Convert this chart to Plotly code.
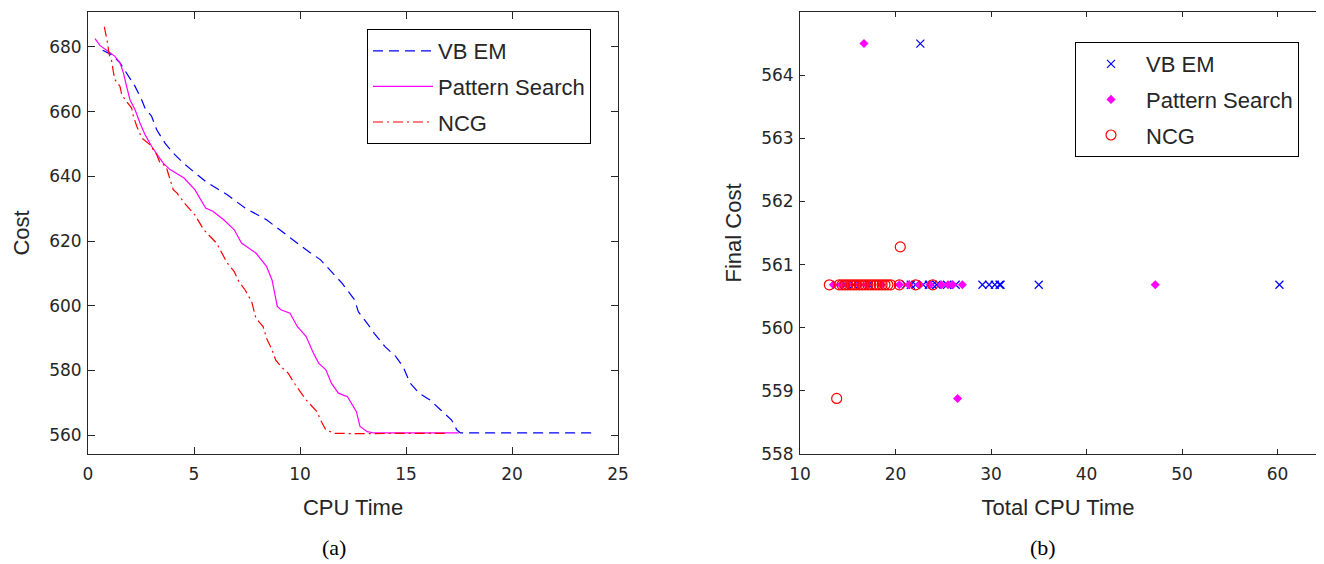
import plotly.graph_objects as go

# ---------------- Panel (a): cost vs CPU time ----------------
vb_t = [0.69, 1.12, 1.51, 1.98, 2.22, 2.53, 2.69, 3.0, 3.24, 3.63, 4.02, 4.5, 5.55, 6.57, 7.41, 8.42,
        9.44, 10.29, 10.97, 11.48, 11.98, 12.58, 12.75, 13.17, 13.5, 14.01, 14.52, 14.86, 15.2, 15.62,
        16.13, 16.64, 17.15, 17.4, 17.57, 23.8]
vb_cost = [679.0, 677.6, 675.1, 670.4, 667.8, 663.7, 661.1, 658.6, 654.4, 650.3, 647.2, 644.1, 638.4,
           634.3, 630.2, 626.6, 621.4, 617.3, 614.2, 610.6, 607.0, 601.8, 598.2, 594.6, 591.5, 587.4,
           584.3, 581.2, 576.1, 573.0, 570.9, 567.8, 564.7, 561.6, 560.7, 560.7]

ps_t = [0.33, 0.57, 0.88, 1.27, 1.51, 1.67, 1.82, 1.98, 2.22, 2.45, 2.69, 3.0, 3.32, 3.55, 3.87, 4.53,
        5.04, 5.55, 5.89, 6.4, 6.9, 7.24, 7.92, 8.42, 8.68, 8.93, 9.1, 9.53, 9.87, 10.29, 10.63, 10.88,
        11.22, 11.48, 11.81, 12.24, 12.66, 12.83, 13.17, 13.5, 17.49]
ps_cost = [682.6, 680.4, 679.0, 677.1, 675.1, 672.0, 667.8, 663.7, 660.6, 656.5, 652.9, 649.3, 646.2,
           644.1, 642.1, 639.5, 635.9, 630.2, 629.2, 626.6, 623.5, 619.4, 616.3, 612.2, 608.0, 599.8,
           598.8, 597.7, 593.6, 590.5, 585.4, 582.3, 580.2, 576.1, 573.0, 571.9, 567.3, 562.7, 561.1,
           560.7, 560.7]

ncg_t = [0.77, 0.91, 1.0, 1.12, 1.19, 1.27, 1.51, 1.59, 1.75, 2.06, 2.14, 2.3, 2.53, 2.92, 3.24, 3.4,
         3.68, 4.02, 4.19, 4.62, 5.04, 5.46, 6.06, 6.31, 6.57, 6.9, 7.07, 7.41, 7.72, 7.92, 8.26, 8.42,
         8.68, 8.85, 9.1, 9.44, 9.78, 10.29, 10.8, 10.97, 11.22, 11.64, 12.49, 17.0]
ncg_cost = [686.2, 681.7, 677.6, 675.6, 672.5, 669.9, 667.8, 665.3, 663.7, 661.1, 658.6, 655.5, 651.9,
            649.8, 646.7, 644.1, 643.1, 635.9, 634.9, 631.2, 628.1, 623.5, 619.4, 616.3, 613.2, 610.6,
            608.0, 604.9, 601.3, 596.2, 593.6, 590.0, 586.4, 583.3, 581.2, 579.2, 575.6, 570.9, 567.3,
            564.7, 561.6, 560.6, 560.5, 560.6]

# ---------------- Panel (b): final cost vs total CPU time ----------------
vb_total = [14.8, 15.6, 17.2, 21.1, 21.6, 22.1, 22.9, 23.5, 23.9, 24.3, 25.4, 26.3, 29.1, 29.8, 30.4,
            30.9, 31.0, 35.0, 60.2, 22.6]
vb_final = [560.68] * 19 + [564.5]

ps_total = [13.5, 14.3, 15.0, 16.2, 17.0, 18.5, 20.4, 21.4, 22.5, 23.6, 24.8, 25.5, 26.0, 27.0, 47.2,
            16.7, 26.5]
ps_final = [560.68] * 15 + [564.5, 558.88]

ncg_total = [13.07, 14.1, 14.4, 14.7, 15.0, 15.3, 15.6, 15.9, 16.2, 16.5, 16.8, 17.1, 17.4, 17.7, 18.0,
             18.3, 18.6, 18.9, 19.2, 19.5, 20.4, 22.1, 23.9, 20.5, 13.84]
ncg_final = [560.68] * 23 + [561.28, 558.88]

names = ["VB EM", "Pattern Search", "NCG"]
colors = ["#0000FF", "#FF00FF", "#FF0000"]

fig = go.Figure()

fig.add_trace(go.Scatter(x=vb_t, y=vb_cost, mode="lines", name=names[0], legendgroup="a1",
                         line=dict(color=colors[0], width=1.2, dash="10px,6px"),
                         xaxis="x", yaxis="y", legend="legend"))
fig.add_trace(go.Scatter(x=ps_t, y=ps_cost, mode="lines", name=names[1], legendgroup="a2",
                         line=dict(color=colors[1], width=1.2),
                         xaxis="x", yaxis="y", legend="legend"))
fig.add_trace(go.Scatter(x=ncg_t, y=ncg_cost, mode="lines", name=names[2], legendgroup="a3",
                         line=dict(color=colors[2], width=1.2, dash="10px,4px,2px,4px"),
                         xaxis="x", yaxis="y", legend="legend"))

fig.add_trace(go.Scatter(x=vb_total, y=vb_final, mode="markers", name=names[0], legendgroup="b1",
                         marker=dict(symbol="x-thin-open", size=8, color=colors[0],
                                     line=dict(color=colors[0], width=1.2)),
                         xaxis="x2", yaxis="y2", legend="legend2"))
fig.add_trace(go.Scatter(x=ps_total, y=ps_final, mode="markers", name=names[1], legendgroup="b2",
                         marker=dict(symbol="diamond", size=7, color=colors[1], line=dict(width=0)),
                         xaxis="x2", yaxis="y2", legend="legend2"))
fig.add_trace(go.Scatter(x=ncg_total, y=ncg_final, mode="markers", name=names[2], legendgroup="b3",
                         marker=dict(symbol="circle-open", size=10, color=colors[2],
                                     line=dict(color=colors[2], width=1.2)),
                         xaxis="x2", yaxis="y2", legend="legend2"))

# The page body adds an 8px offset; the figure is sized to fit inside it.
OFF = 8
W, H = 1308, 556
ML, MR, MT, MB = 80, 0, 4, 110
PW, PH = W - ML - MR, H - MT - MB


def px_x(page_x):
    return (page_x - OFF - ML) / PW


def px_y(page_y):
    return (H - MB - (page_y - OFF)) / PH


axis_common = dict(showline=True, linecolor="#262626", linewidth=1,
                   ticks="inside", tickcolor="#262626", showgrid=False, zeroline=False,
                   automargin=False,
                   tickfont=dict(family="DejaVu Sans", size=17, color="#262626"),
                   title_font=dict(family="Liberation Sans", size=22, color="#262626"))

legend_common = dict(xanchor="left", yanchor="top", bgcolor="white", bordercolor="black",
                     borderwidth=1, itemwidth=60, tracegroupgap=4,
                     font=dict(family="Liberation Sans", size=22, color="#262626"))

fig.update_layout(
    width=W, height=H,
    margin=dict(l=ML, r=MR, t=MT, b=MB),
    paper_bgcolor="white", plot_bgcolor="white",
    xaxis=dict(domain=[0, px_x(618)], range=[0, 25], tickvals=[0, 5, 10, 15, 20, 25], ticklen=7,
               mirror="ticks", ticklabelstandoff=5,
               title=dict(text="CPU Time", standoff=16), anchor="y", **axis_common),
    yaxis=dict(domain=[0, 1], range=[554.2, 690.8], tickvals=[560, 580, 600, 620, 640, 660, 680],
               ticklen=7, mirror="ticks", ticklabelstandoff=2,
               title=dict(text="Cost", standoff=13), anchor="x", **axis_common),
    xaxis2=dict(domain=[px_x(800), 1], range=[10, 10 + (W + OFF - 800) / 9.55],
                tickvals=[10, 20, 30, 40, 50, 60], ticklen=5, mirror="ticks", ticklabelstandoff=5,
                title=dict(text="Total CPU Time", standoff=16), anchor="y2", **axis_common),
    yaxis2=dict(domain=[0, 1], range=[558, 565], tickvals=[558, 559, 560, 561, 562, 563, 564, 565],
                ticklen=5, mirror=False, ticklabelstandoff=2,
                title=dict(text="Final Cost", standoff=13), anchor="x2", **axis_common),
    legend=dict(x=px_x(367), y=px_y(29), **legend_common),
    legend2=dict(x=px_x(1075), y=px_y(42), **legend_common),
    annotations=[
        dict(text="(a)", x=px_x(334), y=px_y(547), xref="paper", yref="paper", showarrow=False,
             xanchor="center", yanchor="middle",
             font=dict(family="Liberation Serif", size=22, color="black")),
        dict(text="(b)", x=px_x(1043), y=px_y(547), xref="paper", yref="paper", showarrow=False,
             xanchor="center", yanchor="middle",
             font=dict(family="Liberation Serif", size=22, color="black")),
    ],
    showlegend=True,
)

fig.write_html("out.html")
